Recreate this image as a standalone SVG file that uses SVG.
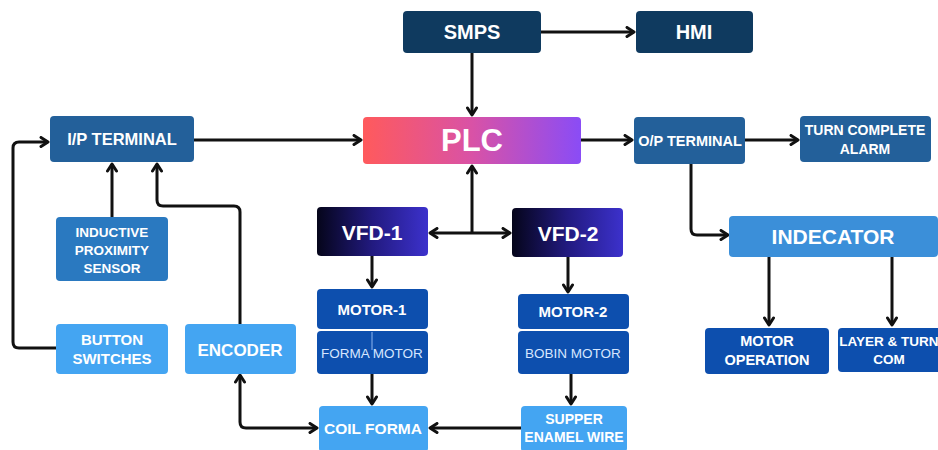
<svg xmlns="http://www.w3.org/2000/svg" width="938" height="450" viewBox="0 0 938 450">
<defs>
<linearGradient id="gPLC" x1="0" y1="0" x2="1" y2="0">
<stop offset="0" stop-color="#ff5a5c"/><stop offset="0.5" stop-color="#d952a6"/><stop offset="1" stop-color="#8a4cf6"/>
</linearGradient>
<linearGradient id="gVFD" x1="0" y1="0" x2="1" y2="0">
<stop offset="0" stop-color="#05051a"/><stop offset="0.5" stop-color="#221a80"/><stop offset="1" stop-color="#3c31cc"/>
</linearGradient>
<marker id="ah" viewBox="0 0 12 12" refX="10" refY="6" markerWidth="12" markerHeight="12" markerUnits="userSpaceOnUse" orient="auto-start-reverse">
<path d="M3,1.5 L10,6 L3,10.5" fill="none" stroke="#111" stroke-width="3" stroke-linecap="round" stroke-linejoin="round"/>
</marker>
<style>
.t{font-family:"Liberation Sans",Arial,sans-serif;font-weight:bold;fill:#fff;text-anchor:middle}
.r{font-family:"Liberation Sans",Arial,sans-serif;font-weight:normal;fill:#d6e6ff;text-anchor:middle}
.navy{fill:#0f3a5f}
.term{fill:#23609a}
.sens{fill:#2a79c0}
.ind{fill:#3b8fd9}
.mot{fill:#0d4fae}
.lt{fill:#44a5f2}
.c{fill:none;stroke:#111;stroke-width:3;stroke-linejoin:round}
.a{marker-end:url(#ah)}
.b{marker-start:url(#ah);marker-end:url(#ah)}
</style>
</defs>
<rect width="938" height="450" fill="#fff"/>
<g id="connectors">
<path class="c a" d="M541,32 H634"/>
<path class="c a" d="M472,53 V115"/>
<path class="c a" d="M194,140 H361"/>
<path class="c a" d="M581,140 H632"/>
<path class="c a" d="M745,140 H798"/>
<path class="c a" d="M691,164 V229 Q691,235 697,235 H728"/>
<path class="c a" d="M472,233 V166"/>
<path class="c b" d="M430,233 H510"/>
<path class="c a" d="M372,256 V287"/>
<path class="c a" d="M568,257 V292"/>
<path class="c a" d="M372,373 V404"/>
<path class="c a" d="M571,374 V404"/>
<path class="c a" d="M521,428 H430"/>
<path class="c b" d="M240,375 V422 Q240,428 246,428 H317"/>
<path class="c a" d="M240,324 V212 Q240,206 234,206 H163 Q157,206 157,200 V164"/>
<path class="c a" d="M112,217 V164"/>
<path class="c a" d="M56,348 H19 Q13,348 13,342 V148 Q13,142 19,142 H48"/>
<path class="c a" d="M769,256 V325"/>
<path class="c a" d="M892,256 V325"/>
</g>
<g id="smps"><rect class="navy" x="403" y="11" width="138" height="42" rx="4"/><text class="t" x="472" y="39" font-size="20">SMPS</text></g>
<g id="hmi"><rect class="navy" x="636" y="11" width="117" height="42" rx="4"/><text class="t" x="694" y="39" font-size="20">HMI</text></g>
<g id="plc"><rect fill="url(#gPLC)" x="363" y="117" width="218" height="47" rx="4"/><text class="t" x="472" y="151" font-size="31">PLC</text></g>
<g id="ip-terminal"><rect class="term" x="50" y="116" width="144" height="46" rx="4"/><text class="t" x="122" y="145" font-size="16.5">I/P TERMINAL</text></g>
<g id="op-terminal"><rect class="term" x="634" y="117" width="111" height="47" rx="4"/><text class="t" x="690" y="146" font-size="14.5">O/P TERMINAL</text></g>
<g id="turn-complete-alarm"><rect class="term" x="800" y="116" width="131" height="46" rx="4"/><text class="t" x="865" y="135" font-size="14">TURN COMPLETE</text><text class="t" x="865" y="154" font-size="14">ALARM</text></g>
<g id="indecator"><rect class="ind" x="729" y="216" width="209" height="41" rx="4"/><text class="t" x="833" y="244" font-size="21">INDECATOR</text></g>
<g id="vfd-1"><rect fill="url(#gVFD)" x="317" y="207" width="111" height="49" rx="4"/><text class="t" x="372" y="240" font-size="21">VFD-1</text></g>
<g id="vfd-2"><rect fill="url(#gVFD)" x="512" y="208" width="111" height="49" rx="4"/><text class="t" x="568" y="241" font-size="21">VFD-2</text></g>
<g id="motor-1"><rect class="mot" x="317" y="289" width="111" height="40" rx="4"/><text class="t" x="372" y="315" font-size="15">MOTOR-1</text></g>
<g id="forma-motor"><rect class="mot" x="317" y="331" width="111" height="43" rx="4"/><line x1="372" y1="332" x2="372" y2="350" stroke="#8fb6ee" stroke-width="1"/><text class="r" x="372" y="358" font-size="13.5">FORMA MOTOR</text></g>
<g id="motor-2"><rect class="mot" x="518" y="294" width="111" height="35" rx="4"/><text class="t" x="573" y="317" font-size="15">MOTOR-2</text></g>
<g id="bobin-motor"><rect class="mot" x="518" y="331" width="111" height="43" rx="4"/><text class="r" x="573" y="358" font-size="13.5">BOBIN MOTOR</text></g>
<g id="coil-forma"><rect class="lt" x="319" y="406" width="109" height="46" rx="4"/><text class="t" x="373" y="434" font-size="15.5">COIL FORMA</text></g>
<g id="supper-enamel-wire"><rect class="lt" x="521" y="406" width="106" height="46" rx="4"/><text class="t" x="574" y="424" font-size="14">SUPPER</text><text class="t" x="574" y="442" font-size="14">ENAMEL WIRE</text></g>
<g id="inductive-proximity-sensor"><rect class="sens" x="56" y="217" width="112" height="64" rx="4"/><text class="t" x="112" y="237" font-size="13.5">INDUCTIVE</text><text class="t" x="112" y="255" font-size="13.5">PROXIMITY</text><text class="t" x="112" y="273" font-size="13.5">SENSOR</text></g>
<g id="button-switches"><rect class="lt" x="56" y="324" width="112" height="50" rx="4"/><text class="t" x="112" y="345" font-size="15">BUTTON</text><text class="t" x="112" y="364" font-size="15">SWITCHES</text></g>
<g id="encoder"><rect class="lt" x="185" y="324" width="111" height="50" rx="4"/><text class="t" x="240" y="356" font-size="17">ENCODER</text></g>
<g id="motor-operation"><rect class="mot" x="705" y="328" width="124" height="46" rx="4"/><text class="t" x="767" y="346" font-size="14.5">MOTOR</text><text class="t" x="767" y="365" font-size="14.5">OPERATION</text></g>
<g id="layer-turn-com"><rect class="mot" x="838" y="328" width="104" height="44" rx="4"/><text class="t" x="889" y="346" font-size="13.5">LAYER &amp; TURN</text><text class="t" x="889" y="364" font-size="13.5">COM</text></g>
</svg>
